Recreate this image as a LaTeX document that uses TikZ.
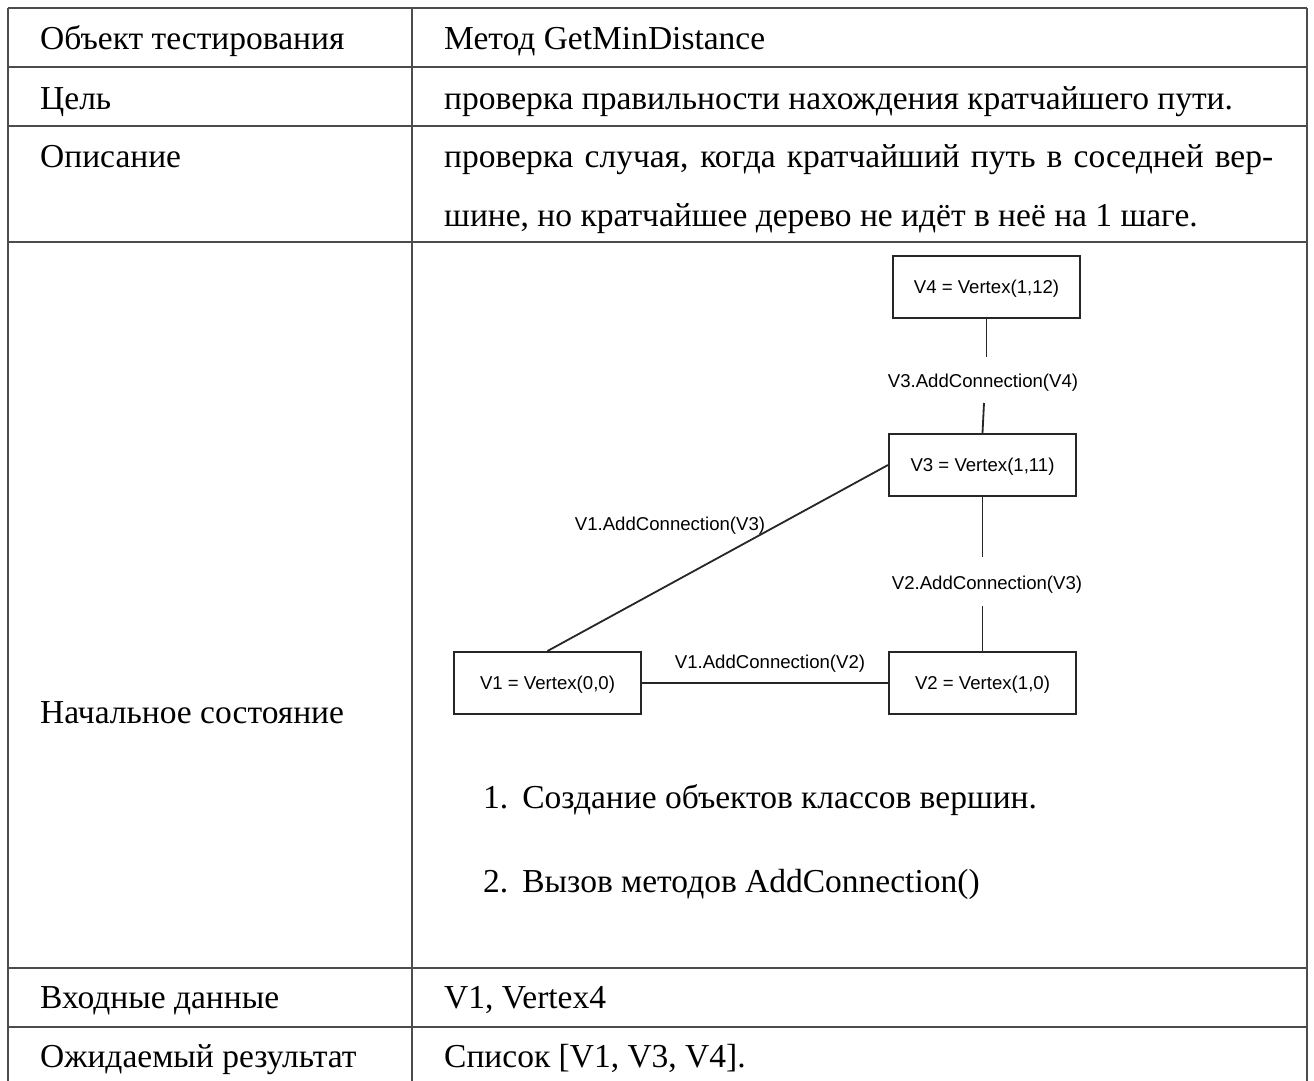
\documentclass[tikz,border=0pt]{standalone}
\usepackage{fontspec}
\setmainfont{Liberation Serif}
\newfontfamily\diagfont{Liberation Sans}
\begin{document}
\begin{tikzpicture}[x=1pt,y=-1pt,
  rule/.style={draw=black!70, line width=1.6pt},
  cell/.style={anchor=base west, inner sep=0pt, font=\fontsize{33.5}{40}\selectfont},
  vbox/.style={draw=black!85, line width=2pt, minimum width=187pt, minimum height=62pt,
    inner sep=0pt, text depth=0pt, font=\diagfont\fontsize{18.6}{22}\selectfont},
  elabel/.style={inner sep=0pt, text depth=0pt, font=\diagfont\fontsize{18.6}{22}\selectfont},
  edge/.style={draw=black!85, line width=1.8pt}]
\useasboundingbox (0,0) rectangle (1314,1081);
\fill[white] (0,0) rectangle (1314,1081);

% table rules
\foreach \yy in {8,67,126,242,968,1027}
  \draw[rule] (8,\yy) -- (1307,\yy);
\foreach \xx in {8,412,1307}
  \draw[rule] (\xx,8) -- (\xx,1085);

% left column
\node[cell] (k1) at (40,50) {Объект тестирования};
\node[cell] (k2) at (40,109) {Цель};
\node[cell] (k3) at (40,167) {Описание};
\node[cell] (k4) at (40,723) {Начальное состояние};
\node[cell] (k5) at (40,1008) {Входные данные};
\node[cell] (k6) at (40,1067) {Ожидаемый результат};

% right column
\node[cell] (v1) at (444,50) {Метод GetMinDistance};
\node[cell] (v2) at (444,109) {проверка правильности нахождения кратчайшего пути.};
\node[cell] (v3a) at (444,167) {\makebox[829pt][s]{проверка случая, когда кратчайший путь в соседней вер-}};
\node[cell] (v3b) at (444,226) {шине, но кратчайшее дерево не идёт в неё на 1 шаге.};
\node[cell] (l1) at (483,808) {1.\hspace{14pt}Создание объектов классов вершин.};
\node[cell] (l2) at (483,892) {2.\hspace{14pt}Вызов методов AddConnection()};
\node[cell] (v5) at (444,1008) {V1, Vertex4};
\node[cell] (v6) at (444,1067) {Список [V1, V3, V4].};

% graph of vertices
\node[vbox] (V4) at (986.5,287) {V4 = Vertex(1,12)};
\node[vbox] (V3) at (982.5,465) {V3 = Vertex(1,11)};
\node[vbox] (V1) at (547.5,683) {V1 = Vertex(0,0)};
\node[vbox] (V2) at (982.5,683) {V2 = Vertex(1,0)};

\node[elabel] (e34) at (983,381) {V3.AddConnection(V4)};
\node[elabel] (e23) at (987,583) {V2.AddConnection(V3)};
\node[elabel] (e13) at (670,524) {V1.AddConnection(V3)};
\node[elabel] (e12) at (770,662) {V1.AddConnection(V2)};

\coordinate (a34) at (986.5,357);
\coordinate (b34) at (984,403);
\coordinate (a23) at (982.5,557);
\coordinate (b23) at (982.5,606);

\draw[edge] (V4.south) -- (a34);
\draw[edge] (b34) -- (V3.north);
\draw[edge] (V3.south) -- (a23);
\draw[edge] (b23) -- (V2.north);
\draw[edge] (V1.north) -- (V3.west);
\draw[edge] (V1.east) -- (V2.west);
\end{tikzpicture}
\end{document}
